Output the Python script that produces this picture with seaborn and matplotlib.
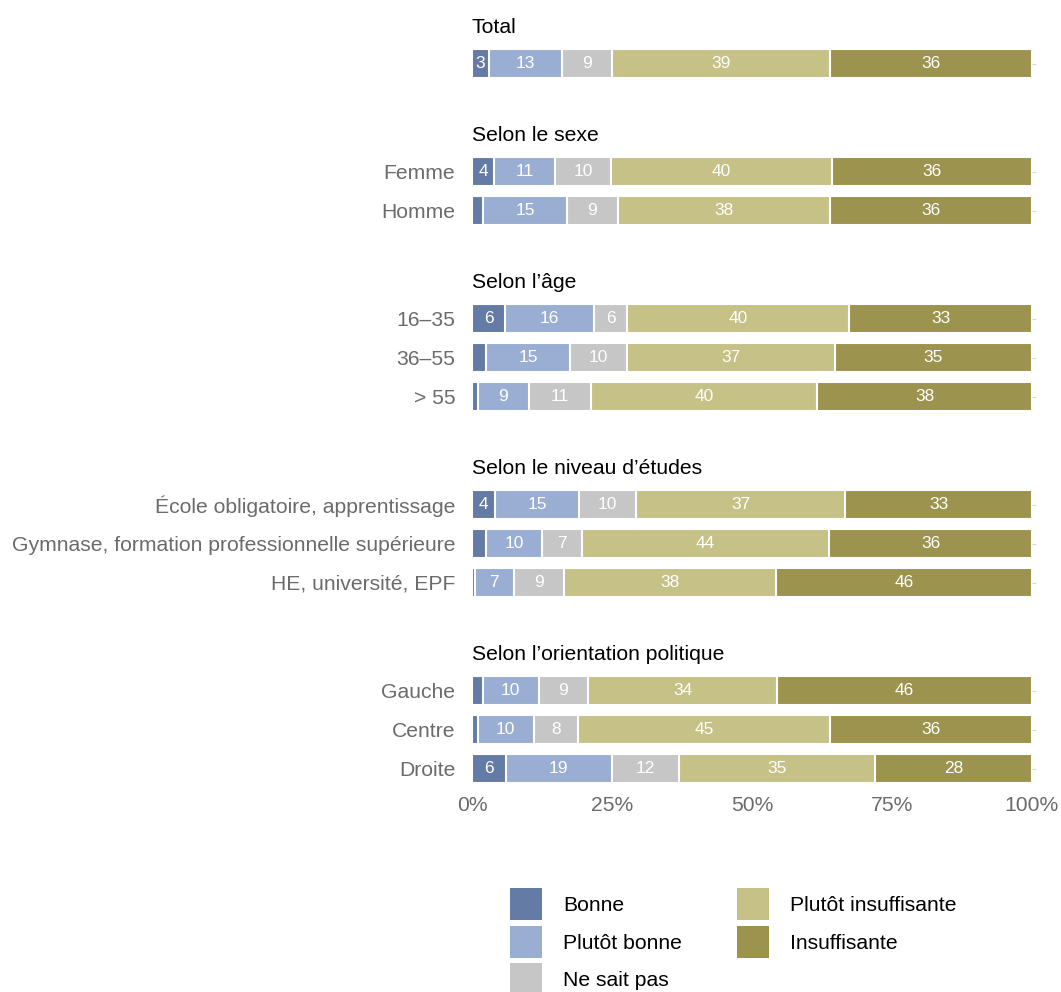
import numpy as np
import pandas as pd
import seaborn as sns
import matplotlib.pyplot as plt
from matplotlib.patches import Patch

# --- data (percent of respondents) ---
categories = ["Bonne", "Plutôt bonne", "Ne sait pas", "Plutôt insuffisante", "Insuffisante"]
colors = ["#647ba6", "#9aaed4", "#c6c6c6", "#c6c187", "#9c934e"]

groups = ["Total", "Selon le sexe", "Selon l’âge", "Selon le niveau d’études",
          "Selon l’orientation politique"]
row_labels = ["Total", "Femme", "Homme", "16–35", "36–55", "> 55",
              "École obligatoire, apprentissage",
              "Gymnase, formation professionnelle supérieure",
              "HE, université, EPF", "Gauche", "Centre", "Droite"]
row_group = ["Total", "Selon le sexe", "Selon le sexe",
             "Selon l’âge", "Selon l’âge", "Selon l’âge",
             "Selon le niveau d’études", "Selon le niveau d’études", "Selon le niveau d’études",
             "Selon l’orientation politique", "Selon l’orientation politique",
             "Selon l’orientation politique"]

bonne = [3, 4, 2, 6, 2.5, 1, 4, 2.5, 0.5, 2, 1, 6]
plutot_bonne = [13, 11, 15, 16, 15, 9, 15, 10, 7, 10, 10, 19]
ne_sait_pas = [9, 10, 9, 6, 10, 11, 10, 7, 9, 9, 8, 12]
plutot_insuffisante = [39, 40, 38, 40, 37, 40, 37, 44, 38, 34, 45, 35]
insuffisante = [36, 36, 36, 33, 35, 38, 33, 36, 46, 46, 36, 28]

df = pd.DataFrame({"row": row_labels, "group": row_group,
                   categories[0]: bonne, categories[1]: plutot_bonne,
                   categories[2]: ne_sait_pas, categories[3]: plutot_insuffisante,
                   categories[4]: insuffisante})

# normalise each row to 100 and build cumulative ends for stacking
vals = df[categories].to_numpy(dtype=float)
pct = vals / vals.sum(axis=1, keepdims=True) * 100
cum = np.cumsum(pct, axis=1)
for i, c in enumerate(categories):
    df["pct_" + c] = pct[:, i]
    df["cum_" + c] = cum[:, i]

sns.set_theme(style="white")
plt.rcParams["font.family"] = ["Liberation Sans", "DejaVu Sans"]

W, H = 1061, 992
fig = plt.figure(figsize=(W / 100, H / 100), dpi=100)

grey = "#6b6b6b"
fs = 15.2
left_px, right_px = 472, 1032
row_px = 39
top_px = 44
gap_px = 69

axes = []
for g in groups:
    sub = df[df["group"] == g].reset_index(drop=True)
    n = len(sub)
    h = n * row_px
    ax = fig.add_axes([left_px / W, 1 - (top_px + h) / H,
                       (right_px - left_px) / W, h / H])
    top_px += h + gap_px

    # overlay cumulative bars, longest first
    for c, col in reversed(list(zip(categories, colors))):
        sns.barplot(data=sub, x="cum_" + c, y="row", orient="y", color=col,
                    width=0.72, edgecolor="white", linewidth=1.5,
                    saturation=1, ax=ax)

    for i in range(n):
        for c in categories:
            v = sub.loc[i, c]
            if v >= 3:
                xc = sub.loc[i, "cum_" + c] - sub.loc[i, "pct_" + c] / 2
                ax.text(xc, i, f"{int(round(v))}", ha="center", va="center",
                        color="white", fontsize=12.5)

    ax.set_xlim(0, 100)
    ax.set_ylim(n - 0.5, -0.5)
    ax.set_xlabel("")
    ax.set_ylabel("")
    ax.set_title(g, loc="left", fontsize=fs, pad=8, color="black")
    ax.set_xticks([0, 25, 50, 75, 100])
    ax.set_xticklabels(["0%", "25%", "50%", "75%", "100%"])
    ax.tick_params(axis="x", length=0, labelsize=fs, labelcolor=grey, pad=6,
                   labelbottom=False)
    ax.tick_params(axis="y", left=False, right=True, length=3, width=0.8,
                   color="#d9d9d9", labelsize=fs, labelcolor=grey, pad=9)
    if g == "Total":
        ax.set_yticklabels([""])
    sns.despine(ax=ax, left=True, bottom=True)
    axes.append(ax)

axes[-1].tick_params(axis="x", labelbottom=True)

handles = [Patch(facecolor=col, edgecolor="none", label=c)
           for c, col in zip(categories, colors)]
fig.legend(handles=handles, ncol=2, loc="upper left",
           bbox_to_anchor=(510 / W, 1 - 888 / H), frameon=False,
           fontsize=fs, handlelength=1.52, handleheight=1.98,
           handletextpad=1.0, labelspacing=0.25, columnspacing=2.6,
           borderpad=0, borderaxespad=0, labelcolor="black")

fig.savefig("out.png", dpi=100)
